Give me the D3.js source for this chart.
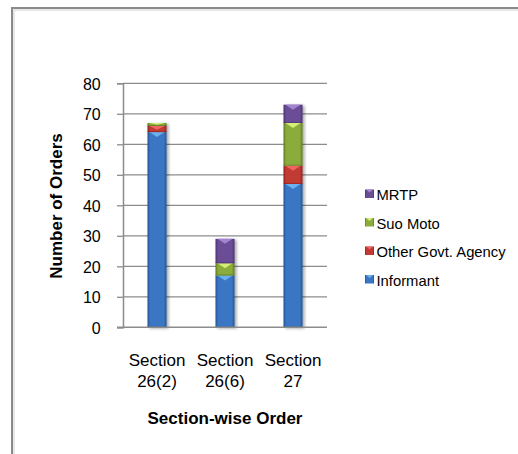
<!DOCTYPE html>
<html>
<head>
<meta charset="utf-8">
<script src="https://cdn.jsdelivr.net/npm/d3@7"></script>
<style>
  html, body { margin: 0; padding: 0; background: #ffffff; }
  svg { display: block; font-family: "Liberation Sans", Arial, sans-serif; }
</style>
</head>
<body>
<svg id="chart" width="518" height="454"></svg>
<script>
// Orders per section, stacked by source
const categories = ["Section 26(2)", "Section 26(6)", "Section 27"];
const categoryLines = [["Section", "26(2)"], ["Section", "26(6)"], ["Section", "27"]];
const seriesNames = ["Informant", "Other Govt. Agency", "Suo Moto", "MRTP"];
const informant = [64, 17, 47];
const otherGovt = [2, 0, 6];
const suoMoto = [1, 4, 14];
const mrtp = [0, 8, 6];
const yTicks = [0, 10, 20, 30, 40, 50, 60, 70, 80];

const seriesValues = [informant, otherGovt, suoMoto, mrtp];
const palette = {
  "Informant":          { base: "#3a76c4", dark: "#24538f", light: "#6fb9f2" },
  "Other Govt. Agency": { base: "#c23a33", dark: "#8e221e", light: "#f56a68" },
  "Suo Moto":           { base: "#8bab3c", dark: "#5f7a22", light: "#dcf47a" },
  "MRTP":               { base: "#6b4d96", dark: "#4a3270", light: "#a98bd8" }
};

const rows = categories.map((c, i) => {
  const r = { category: c };
  seriesNames.forEach((s, k) => { r[s] = seriesValues[k][i]; });
  return r;
});
const stacked = d3.stack().keys(seriesNames)(rows);

const svg = d3.select("#chart");

// chart-area frame
svg.append("rect").attr("x", 12).attr("y", 8).attr("width", 530).attr("height", 470)
  .attr("fill", "none").attr("stroke", "#8a8a8a").attr("stroke-width", 2);
svg.append("rect").attr("x", 14).attr("y", 10).attr("width", 530).attr("height", 470)
  .attr("fill", "none").attr("stroke", "#d0d0d0").attr("stroke-width", 1);

const plot = { left: 123, right: 327, top: 83.3, bottom: 327.3 };

const x = d3.scaleBand().domain(categories)
  .range([plot.left, plot.right]).paddingInner(0.72).paddingOuter(0.36);
const y = d3.scaleLinear().domain([0, 80]).range([plot.bottom, plot.top]);

// gradients for the bevelled bars
const defs = svg.append("defs");
seriesNames.forEach((s, k) => {
  const p = palette[s];
  const g = defs.append("linearGradient").attr("id", "grad" + k)
    .attr("x1", "0%").attr("x2", "100%").attr("y1", "0%").attr("y2", "0%");
  g.append("stop").attr("offset", "0%").attr("stop-color", p.dark);
  g.append("stop").attr("offset", "14%").attr("stop-color", p.base);
  g.append("stop").attr("offset", "86%").attr("stop-color", p.base);
  g.append("stop").attr("offset", "100%").attr("stop-color", p.dark);
});
const shadow = defs.append("filter").attr("id", "shadow")
  .attr("x", "-30%").attr("y", "-10%").attr("width", "160%").attr("height", "120%");
shadow.append("feGaussianBlur").attr("in", "SourceAlpha").attr("stdDeviation", 1.5);
shadow.append("feOffset").attr("dx", 1.5).attr("dy", 1).attr("result", "b");
shadow.append("feComponentTransfer").append("feFuncA").attr("type", "linear").attr("slope", 0.35);
const merge = shadow.append("feMerge");
merge.append("feMergeNode");
merge.append("feMergeNode").attr("in", "SourceGraphic");

// gridlines
svg.append("g").selectAll("line").data(yTicks.filter(t => t > 0)).join("line")
  .attr("x1", plot.left).attr("x2", plot.right)
  .attr("y1", d => y(d)).attr("y2", d => y(d))
  .attr("stroke", "#8c8c8c").attr("stroke-width", 1.3);

// y axis
const yAxis = svg.append("g").attr("transform", `translate(${plot.left},0)`)
  .call(d3.axisLeft(y).tickValues(yTicks).tickSize(6).tickPadding(16.3));
yAxis.select(".domain").attr("stroke", "#8c8c8c").attr("stroke-width", 1.5);
yAxis.selectAll(".tick line").attr("stroke", "#8c8c8c").attr("stroke-width", 1.3);
yAxis.selectAll(".tick text").attr("font-size", 16).attr("fill", "#000")
  .attr("font-family", "Liberation Sans, Arial, sans-serif").attr("dy", "0.36em");

// bars
const barLayer = svg.append("g").attr("filter", "url(#shadow)");
stacked.forEach((layer, k) => {
  const p = palette[layer.key];
  const segs = layer.filter(d => d[1] - d[0] > 0);
  const g = barLayer.append("g");
  g.selectAll("rect").data(segs).join("rect")
    .attr("x", d => x(d.data.category))
    .attr("width", x.bandwidth())
    .attr("y", d => y(d[1]))
    .attr("height", d => y(d[0]) - y(d[1]))
    .attr("fill", `url(#grad${k})`);
  // top bevel notch
  g.selectAll("path").data(segs).join("path")
    .attr("d", d => {
      const x0 = x(d.data.category), w = x.bandwidth();
      const t = y(d[1]);
      const h = Math.min(5, (y(d[0]) - y(d[1])) * 0.6);
      return `M${x0 + 2},${t}L${x0 + w - 2},${t}L${x0 + w / 2},${t + h}Z`;
    })
    .attr("fill", p.light).attr("opacity", 0.9);
  // bottom edge shade
  g.selectAll("line").data(segs).join("line")
    .attr("x1", d => x(d.data.category)).attr("x2", d => x(d.data.category) + x.bandwidth())
    .attr("y1", d => y(d[0]) - 0.5).attr("y2", d => y(d[0]) - 0.5)
    .attr("stroke", p.dark).attr("stroke-width", 1).attr("opacity", 0.7);
});

// x axis line
svg.append("line").attr("x1", plot.left - 6).attr("x2", plot.right)
  .attr("y1", plot.bottom).attr("y2", plot.bottom)
  .attr("stroke", "#8c8c8c").attr("stroke-width", 1.5);

// category labels
const catG = svg.append("g");
categories.forEach((c, i) => {
  const cx = x(c) + x.bandwidth() / 2;
  const t = catG.append("text").attr("x", cx).attr("text-anchor", "middle")
    .attr("font-size", 17).attr("fill", "#000");
  categoryLines[i].forEach((line, j) => {
    t.append("tspan").attr("x", cx).attr("y", 365.5 + j * 21).text(line);
  });
});

// axis titles
svg.append("text").attr("x", 225).attr("y", 424).attr("text-anchor", "middle")
  .attr("font-size", 17).attr("font-weight", "bold").attr("fill", "#000")
  .text("Section-wise Order");
svg.append("text").attr("transform", "translate(61.5,206) rotate(-90)")
  .attr("text-anchor", "middle").attr("font-size", 17).attr("font-weight", "bold")
  .attr("fill", "#000").text("Number of Orders");

// legend (top-most series first)
const legendOrder = seriesNames.slice().reverse();
const legend = svg.append("g");
legendOrder.forEach((s, i) => {
  const k = seriesNames.indexOf(s);
  const p = palette[s];
  const by = 200 + i * 28.5;
  legend.append("rect").attr("x", 365).attr("y", by - 10.5).attr("width", 9).attr("height", 8.5)
    .attr("fill", `url(#grad${k})`);
  legend.append("path")
    .attr("d", `M366,${by - 10.5}L373,${by - 10.5}L369.5,${by - 7.5}Z`)
    .attr("fill", p.light).attr("opacity", 0.9);
  legend.append("text").attr("x", 376.5).attr("y", by)
    .attr("font-size", 14.8).attr("fill", "#000").text(s);
});
</script>
</body>
</html>
